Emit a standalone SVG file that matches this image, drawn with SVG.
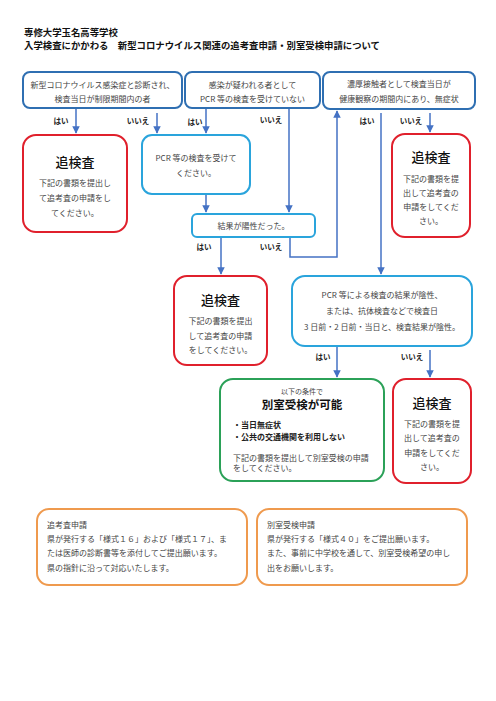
<svg xmlns="http://www.w3.org/2000/svg" width="496" height="701" viewBox="0 0 496 701">
<style>
text{font-family:"Noto Sans CJK JP","Noto Sans",sans-serif}
.hd{font-size:9.4px;font-weight:bold;fill:#111}
.t{font-size:8px;fill:#444;text-anchor:middle}
.tl{font-size:8px;fill:#444}
.ttl{font-size:13px;font-weight:500;fill:#111;text-anchor:middle}
.lb{font-size:7.5px;font-weight:bold;fill:#222;text-anchor:middle}
.bd{fill:#fff;stroke-width:2}
.db{stroke:#2f6fb2}
.cy{stroke:#2aa4dc}
.rd{stroke:#e0202c}
.gn{stroke:#2ba158}
.or{stroke:#ef9a4e}
.cn{fill:none;stroke:#4472c4;stroke-width:1.5}
</style>
<defs>
<marker id="ah" viewBox="0 0 10 10" refX="9" refY="5" markerWidth="5" markerHeight="5" orient="auto" markerUnits="strokeWidth">
<path d="M0,0 L10,5 L0,10 z" fill="#4472c4"/>
</marker>
</defs>
<rect width="496" height="701" fill="#ffffff"/>
<g id="header">
<text class="hd" x="24" y="36">専修大学玉名高等学校</text>
<text class="hd" x="24" y="49">入学検査にかかわる　新型コロナウイルス関連の追考査申請・別室受検申請について</text>
</g>
<g id="connectors">
<line class="cn" x1="76" y1="108" x2="76" y2="133" marker-end="url(#ah)"/>
<line class="cn" x1="157" y1="113" x2="157" y2="133" marker-end="url(#ah)"/>
<line class="cn" x1="206" y1="109" x2="206" y2="133" marker-end="url(#ah)"/>
<line class="cn" x1="289" y1="109" x2="289" y2="212" marker-end="url(#ah)"/>
<line class="cn" x1="206" y1="194" x2="206" y2="212" marker-end="url(#ah)"/>
<line class="cn" x1="221" y1="237" x2="221" y2="274" marker-end="url(#ah)"/>
<polyline class="cn" points="290,237 290,257 337,257 337,111" marker-end="url(#ah)"/>
<line class="cn" x1="381" y1="113" x2="381" y2="274" marker-end="url(#ah)"/>
<line class="cn" x1="430" y1="113" x2="430" y2="132" marker-end="url(#ah)"/>
<line class="cn" x1="337" y1="347" x2="337" y2="377" marker-end="url(#ah)"/>
<line class="cn" x1="430" y1="350" x2="430" y2="377" marker-end="url(#ah)"/>
<text class="lb" x="61" y="124">はい</text>
<text class="lb" x="138" y="124">いいえ</text>
<text class="lb" x="195" y="125">はい</text>
<text class="lb" x="271" y="123">いいえ</text>
<text class="lb" x="367" y="124">はい</text>
<text class="lb" x="411" y="124">いいえ</text>
<text class="lb" x="204" y="250">はい</text>
<text class="lb" x="271" y="250">いいえ</text>
<text class="lb" x="323" y="360">はい</text>
<text class="lb" x="412" y="360">いいえ</text>
</g>
<g id="q1">
<rect class="bd db" x="23" y="72" width="159" height="36" rx="7"/>
<text class="t" x="102.5" y="88">新型コロナウイルス感染症と診断され、</text>
<text class="t" x="102.5" y="101.5">検査当日が制限期間内の者</text>
</g>
<g id="q2">
<rect class="bd db" x="185" y="72" width="135" height="36" rx="7"/>
<text class="t" x="252.5" y="88">感染が疑われる者として</text>
<text class="t" x="252.5" y="101.5">PCR 等の検査を受けていない</text>
</g>
<g id="q3">
<rect class="bd db" x="323" y="72" width="152" height="37" rx="7"/>
<text class="t" x="399" y="87">濃厚接触者として検査当日が</text>
<text class="t" x="399" y="101.5">健康観察の期間内にあり、無症状</text>
</g>
<g id="r1">
<rect class="bd rd" x="23" y="135" width="104" height="97" rx="13"/>
<text class="ttl" x="75" y="167">追検査</text>
<text class="t" x="75" y="186">下記の書類を提出し</text>
<text class="t" x="75" y="201">て追考査の申請をし</text>
<text class="t" x="75" y="216">てください。</text>
</g>
<g id="pcr">
<rect class="bd cy" x="142" y="135" width="108" height="59" rx="10"/>
<text class="t" x="196" y="161">PCR 等の検査を受けて</text>
<text class="t" x="196" y="176">ください。</text>
</g>
<g id="result">
<rect class="bd cy" x="192" y="214" width="123" height="23" rx="5"/>
<text class="t" x="253.5" y="229">結果が陽性だった。</text>
</g>
<g id="r3">
<rect class="bd rd" x="392" y="134" width="78" height="103" rx="13"/>
<text class="ttl" x="431" y="162">追検査</text>
<text class="t" x="431" y="182">下記の書類を提</text>
<text class="t" x="431" y="196">出して追考査の</text>
<text class="t" x="431" y="210">申請をしてくだ</text>
<text class="t" x="431" y="223.5">さい。</text>
</g>
<g id="r2">
<rect class="bd rd" x="174" y="276" width="93" height="89" rx="13"/>
<text class="ttl" x="220.5" y="305">追検査</text>
<text class="t" x="220.5" y="324">下記の書類を提出</text>
<text class="t" x="220.5" y="339">して追考査の申請</text>
<text class="t" x="220.5" y="353">をしてください。</text>
</g>
<g id="neg">
<rect class="bd cy" x="292" y="276" width="180" height="70" rx="13"/>
<text class="t" x="382" y="298">PCR 等による検査の結果が陰性、</text>
<text class="t" x="382" y="314">または、抗体検査などで検査日</text>
<text class="t" x="382" y="330">3 日前・2 日前・当日と、検査結果が陰性。</text>
</g>
<g id="sep">
<rect class="bd gn" x="220" y="379" width="164" height="102" rx="13"/>
<text class="t" x="302" y="394" style="font-size:7px">以下の条件で</text>
<text class="ttl" x="302" y="409" style="font-size:11.5px;font-weight:bold">別室受検が可能</text>
<text class="tl" x="233" y="428" style="font-weight:bold;fill:#222">・当日無症状</text>
<text class="tl" x="233" y="440" style="font-weight:bold;fill:#222">・公共の交通機関を利用しない</text>
<text class="tl" x="233" y="461">下記の書類を提出して別室受検の申請</text>
<text class="tl" x="233" y="471">をしてください。</text>
</g>
<g id="r4">
<rect class="bd rd" x="393" y="379" width="78" height="104" rx="13"/>
<text class="ttl" x="432" y="408">追検査</text>
<text class="t" x="432" y="427">下記の書類を提</text>
<text class="t" x="432" y="441">出して追考査の</text>
<text class="t" x="432" y="456">申請をしてくだ</text>
<text class="t" x="432" y="470">さい。</text>
</g>
<g id="note1">
<rect class="bd or" x="37" y="509" width="210" height="76" rx="12"/>
<text class="tl" x="47" y="528">追考査申請</text>
<text class="tl" x="47" y="542">県が発行する「様式１６」および「様式１７」、ま</text>
<text class="tl" x="47" y="556">たは医師の診断書等を添付してご提出願います。</text>
<text class="tl" x="47" y="571">県の指針に沿って対応いたします。</text>
</g>
<g id="note2">
<rect class="bd or" x="257" y="509" width="210" height="76" rx="12"/>
<text class="tl" x="267" y="528">別室受検申請</text>
<text class="tl" x="267" y="542">県が発行する「様式４０」をご提出願います。</text>
<text class="tl" x="267" y="556">また、事前に中学校を通して、別室受検希望の申し</text>
<text class="tl" x="267" y="571">出をお願いします。</text>
</g>
</svg>
